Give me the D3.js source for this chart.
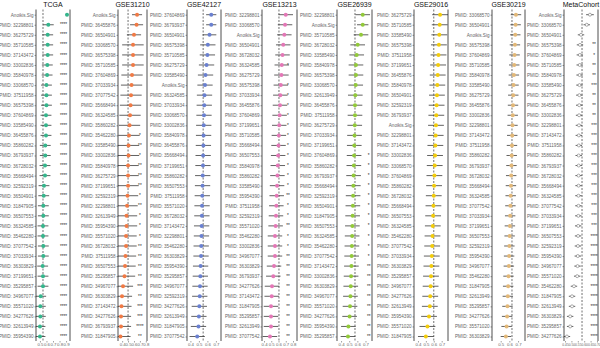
<!DOCTYPE html>
<html><head><meta charset="utf-8">
<script src="https://cdn.jsdelivr.net/npm/d3@7"></script>
<style>body{margin:0;background:#fff}svg{display:block}</style>
</head><body><svg id="c" width="600" height="348"></svg>
<script>
// ---------- DATA ----------
const panelTitles = ["TCGA","GSE31210","GSE42127","GSE13213","GSE26939","GSE29016","GSE30219","MetaCohort"];

const tcgaLabels = ["Anoikis.Sig","PMID: 32298801","PMID: 36275729","PMID: 35710585","PMID: 37143472","PMID: 33002836","PMID: 35840978","PMID: 33068570","PMID: 37511958","PMID: 36575398","PMID: 37604869","PMID: 33585490","PMID: 36455876","PMID: 35860282","PMID: 36793937","PMID: 36728032","PMID: 35668494","PMID: 32592319","PMID: 36504901","PMID: 31847905","PMID: 36507553","PMID: 36324585","PMID: 35462280","PMID: 37077542","PMID: 37033934","PMID: 36303829","PMID: 37199651","PMID: 35295857","PMID: 34967077","PMID: 35571020","PMID: 34277626","PMID: 32613949","PMID: 35954390"];
const tcgaC = [0.914,0.628,0.619,0.619,0.619,0.613,0.61,0.60,0.60,0.60,0.593,0.593,0.593,0.582,0.582,0.578,0.578,0.562,0.558,0.552,0.552,0.547,0.547,0.552,0.552,0.542,0.547,0.547,0.512,0.506,0.506,0.501,0.501];
const tcgaLo = [0.895,0.545,0.536,0.536,0.536,0.53,0.527,0.517,0.517,0.517,0.51,0.51,0.51,0.499,0.499,0.495,0.495,0.479,0.475,0.469,0.469,0.464,0.464,0.469,0.469,0.459,0.464,0.464,0.429,0.423,0.423,0.418,0.418];
const tcgaHi = [0.933,0.711,0.702,0.702,0.702,0.696,0.693,0.683,0.683,0.683,0.676,0.676,0.676,0.665,0.665,0.661,0.661,0.645,0.641,0.635,0.635,0.63,0.63,0.635,0.635,0.625,0.63,0.63,0.595,0.589,0.589,0.584,0.584];
const tcgaStars = ["","****","****","****","****","****","****","****","****","****","****","****","****","****","****","****","****","****","****","****","****","****","****","****","****","****","****","****","****","****","****","****","****"];
const tcgaTicks = [0.5,0.6,0.7,0.8,0.9];

const g31210Labels = ["Anoikis.Sig","PMID: 36455876","PMID: 36504901","PMID: 33068570","PMID: 36575398","PMID: 35710585","PMID: 37604869","PMID: 37033934","PMID: 37077542","PMID: 35668494","PMID: 36324585","PMID: 35860282","PMID: 35462280","PMID: 33585490","PMID: 33002836","PMID: 35840978","PMID: 36275729","PMID: 37199651","PMID: 32592319","PMID: 32298801","PMID: 32613949","PMID: 35954390","PMID: 35571020","PMID: 36728032","PMID: 37511958","PMID: 36507553","PMID: 35295857","PMID: 34967077","PMID: 36303829","PMID: 37143472","PMID: 34277626","PMID: 36793937","PMID: 31847905"];
const g31210C = [0.652,0.644,0.60,0.584,0.584,0.584,0.567,0.559,0.55,0.542,0.533,0.525,0.516,0.508,0.508,0.50,0.50,0.50,0.491,0.483,0.474,0.474,0.466,0.466,0.457,0.449,0.44,0.415,0.398,0.389,0.381,0.381,0.372];
const g31210Lo = [0.567,0.534,0.48,0.40,0.40,0.40,0.387,0.379,0.37,0.362,0.353,0.345,0.336,0.328,0.328,0.32,0.32,0.32,0.311,0.303,0.294,0.294,0.286,0.286,0.277,0.269,0.26,0.245,0.228,0.219,0.211,0.211,0.202];
const g31210Hi = [0.737,0.754,0.72,0.764,0.764,0.764,0.747,0.739,0.73,0.722,0.713,0.705,0.696,0.688,0.688,0.68,0.68,0.68,0.671,0.663,0.654,0.654,0.646,0.646,0.637,0.629,0.62,0.585,0.568,0.559,0.551,0.551,0.542];
const g31210Stars = ["","","","","","","","","","","","","*","**","*","**","**","**","*","**","*","*","*","**","**","**","**","***","**","***","***","****","**"];
const g31210Ticks = [0.4,0.5,0.6,0.7,0.8];

const g42127Labels = ["PMID: 37604869","PMID: 36793937","PMID: 36504901","PMID: 36575398","PMID: 35710585","PMID: 36275729","PMID: 33585490","Anoikis.Sig","PMID: 36324585","PMID: 37033934","PMID: 33068570","PMID: 33002836","PMID: 35840978","PMID: 36455876","PMID: 35668494","PMID: 37199651","PMID: 35860282","PMID: 36507553","PMID: 37511958","PMID: 35571020","PMID: 36728032","PMID: 37143472","PMID: 32298801","PMID: 35462280","PMID: 36303829","PMID: 35954390","PMID: 35295857","PMID: 34967077","PMID: 32592319","PMID: 34277626","PMID: 32613949","PMID: 31847905","PMID: 37077542"];
const g42127C = [0.645,0.645,0.625,0.605,0.60,0.59,0.578,0.572,0.566,0.563,0.56,0.557,0.555,0.553,0.55,0.548,0.545,0.543,0.54,0.537,0.535,0.532,0.53,0.527,0.525,0.52,0.517,0.513,0.51,0.505,0.50,0.495,0.48];
const g42127Lo = [0.585,0.585,0.545,0.515,0.51,0.50,0.488,0.482,0.476,0.473,0.47,0.467,0.465,0.463,0.46,0.458,0.455,0.453,0.45,0.447,0.445,0.442,0.44,0.437,0.435,0.43,0.427,0.423,0.42,0.415,0.41,0.405,0.39];
const g42127Hi = [0.705,0.705,0.705,0.695,0.69,0.68,0.668,0.662,0.656,0.653,0.65,0.647,0.645,0.643,0.64,0.638,0.635,0.633,0.63,0.627,0.625,0.622,0.62,0.617,0.615,0.61,0.607,0.603,0.60,0.595,0.59,0.585,0.57];
const g42127Stars = ["","","","","","","","","","","","","","","","","","","","","","","","","","","","","","","","",""];
const g42127Ticks = [0.4,0.5,0.6,0.7];

const g13213Labels = ["PMID: 32298801","PMID: 33068570","Anoikis.Sig","PMID: 36504901","PMID: 36728032","PMID: 36324585","PMID: 36275729","PMID: 36575398","PMID: 37033934","PMID: 36455876","PMID: 37604869","PMID: 37199651","PMID: 35710585","PMID: 35668494","PMID: 36507553","PMID: 35840978","PMID: 35860282","PMID: 33585490","PMID: 35954390","PMID: 37511958","PMID: 32592319","PMID: 35571020","PMID: 35462280","PMID: 33002836","PMID: 34967077","PMID: 36303829","PMID: 36793937","PMID: 34277626","PMID: 37143472","PMID: 31847905","PMID: 35295857","PMID: 32613949","PMID: 37077542"];
const g13213C = [0.70,0.69,0.68,0.665,0.655,0.645,0.64,0.632,0.625,0.62,0.615,0.61,0.605,0.60,0.595,0.59,0.585,0.58,0.575,0.57,0.565,0.56,0.551,0.551,0.551,0.538,0.528,0.51,0.506,0.496,0.496,0.496,0.482];
const g13213Lo = [0.60,0.59,0.58,0.565,0.555,0.545,0.54,0.532,0.525,0.52,0.515,0.51,0.505,0.50,0.495,0.49,0.485,0.48,0.475,0.47,0.465,0.46,0.451,0.451,0.451,0.438,0.428,0.41,0.406,0.396,0.396,0.396,0.382];
const g13213Hi = [0.80,0.79,0.78,0.765,0.755,0.745,0.74,0.732,0.725,0.72,0.715,0.71,0.705,0.70,0.695,0.69,0.685,0.68,0.675,0.67,0.665,0.66,0.651,0.651,0.651,0.638,0.628,0.61,0.606,0.596,0.596,0.596,0.582];
const g13213Stars = ["","","","","","*","","*","*","*","*","*","*","*","*","*","*","*","**","*","*","**","*","*","**","**","**","**","**","**","**","**","**"];
const g13213Ticks = [0.4,0.5,0.6,0.7,0.8];

const g26939Labels = ["PMID: 32298801","Anoikis.Sig","PMID: 35710585","PMID: 36728032","PMID: 33585490","PMID: 35840978","PMID: 36575398","PMID: 33068570","PMID: 32613949","PMID: 36455876","PMID: 37511958","PMID: 36275729","PMID: 37033934","PMID: 37199651","PMID: 37604869","PMID: 35860282","PMID: 36793937","PMID: 35668494","PMID: 32592319","PMID: 36504901","PMID: 31847905","PMID: 36507553","PMID: 36324585","PMID: 35462280","PMID: 37077542","PMID: 37143472","PMID: 33002836","PMID: 36303829","PMID: 34967077","PMID: 35571020","PMID: 34277626","PMID: 35954390","PMID: 35295857"];
const g26939C = [0.666,0.666,0.645,0.604,0.592,0.583,0.583,0.58,0.575,0.571,0.571,0.568,0.565,0.562,0.56,0.557,0.554,0.551,0.548,0.545,0.542,0.539,0.536,0.533,0.53,0.527,0.523,0.519,0.515,0.51,0.505,0.49,0.485];
const g26939Lo = [0.576,0.596,0.555,0.514,0.502,0.493,0.493,0.49,0.485,0.481,0.481,0.478,0.475,0.472,0.47,0.467,0.464,0.461,0.458,0.455,0.452,0.449,0.446,0.443,0.44,0.437,0.433,0.429,0.425,0.42,0.415,0.40,0.395];
const g26939Hi = [0.756,0.736,0.735,0.694,0.682,0.673,0.673,0.67,0.665,0.661,0.661,0.658,0.655,0.652,0.65,0.647,0.644,0.641,0.638,0.635,0.632,0.629,0.626,0.623,0.62,0.617,0.613,0.609,0.605,0.60,0.595,0.58,0.575];
const g26939Stars = ["","","","","","","","","","","","","","","*","*","*","*","*","*","*","*","*","*","*","**","**","**","**","**","**","**","**"];
const g26939Ticks = [0.4,0.5,0.6,0.7];

const g29016Labels = ["PMID: 36275729","PMID: 35710585","PMID: 33585490","PMID: 36575398","PMID: 37511958","PMID: 37199651","PMID: 36455876","PMID: 35840978","PMID: 36504901","PMID: 32592319","PMID: 36793937","Anoikis.Sig","PMID: 32298801","PMID: 37143472","PMID: 33002836","PMID: 33068570","PMID: 37604869","PMID: 35860282","PMID: 36728032","PMID: 35668494","PMID: 36507553","PMID: 36324585","PMID: 35462280","PMID: 37077542","PMID: 37033934","PMID: 36303829","PMID: 35295857","PMID: 34967077","PMID: 34277626","PMID: 32613949","PMID: 35954390","PMID: 35571020","PMID: 31847905"];
const g29016C = [0.68,0.675,0.67,0.665,0.66,0.655,0.65,0.645,0.64,0.636,0.632,0.628,0.624,0.62,0.616,0.612,0.608,0.604,0.60,0.596,0.592,0.588,0.584,0.58,0.575,0.57,0.565,0.56,0.555,0.55,0.54,0.52,0.50];
const g29016Lo = [0.58,0.575,0.57,0.565,0.56,0.555,0.55,0.545,0.54,0.536,0.532,0.528,0.524,0.52,0.516,0.512,0.508,0.504,0.50,0.496,0.492,0.488,0.484,0.48,0.475,0.47,0.465,0.46,0.455,0.45,0.44,0.42,0.40];
const g29016Hi = [0.78,0.775,0.77,0.765,0.76,0.755,0.75,0.745,0.74,0.736,0.732,0.728,0.724,0.72,0.716,0.712,0.708,0.704,0.70,0.696,0.692,0.688,0.684,0.68,0.675,0.67,0.665,0.66,0.655,0.65,0.64,0.62,0.60];
const g29016Stars = ["","","","","","","","","","","","","","","","","","","","","","","","","","","","","","","","",""];
const g29016Ticks = [0.4,0.5,0.6,0.7];

const g30219Labels = ["PMID: 33068570","PMID: 36504901","Anoikis.Sig","PMID: 36575398","PMID: 37604869","PMID: 35710585","PMID: 35840978","PMID: 33585490","PMID: 36275729","PMID: 36455876","PMID: 33002836","PMID: 32298801","PMID: 37143472","PMID: 37511958","PMID: 35860282","PMID: 36793937","PMID: 36728032","PMID: 35668494","PMID: 36324585","PMID: 37077542","PMID: 37033934","PMID: 37199651","PMID: 36507553","PMID: 32592319","PMID: 35954390","PMID: 34967077","PMID: 35462280","PMID: 31847905","PMID: 32613949","PMID: 35295857","PMID: 34277626","PMID: 35571020","PMID: 36303829"];
const g30219C = [0.676,0.672,0.668,0.664,0.66,0.656,0.652,0.648,0.645,0.642,0.639,0.636,0.633,0.63,0.627,0.624,0.621,0.618,0.615,0.612,0.609,0.606,0.603,0.60,0.597,0.594,0.59,0.586,0.582,0.578,0.574,0.568,0.56];
const g30219Lo = [0.616,0.612,0.608,0.604,0.60,0.596,0.592,0.588,0.585,0.582,0.579,0.576,0.573,0.57,0.567,0.564,0.561,0.558,0.555,0.552,0.549,0.546,0.543,0.54,0.537,0.534,0.53,0.526,0.522,0.518,0.514,0.508,0.50];
const g30219Hi = [0.736,0.732,0.728,0.724,0.72,0.716,0.712,0.708,0.705,0.702,0.699,0.696,0.693,0.69,0.687,0.684,0.681,0.678,0.675,0.672,0.669,0.666,0.663,0.66,0.657,0.654,0.65,0.646,0.642,0.638,0.634,0.628,0.62];
const g30219Stars = ["","","","","","","","","","","","","","","","","","","","","","","","","","","","","","","","",""];
const g30219Ticks = [0.5,0.6,0.7];

const metaLabels = ["Anoikis.Sig","PMID: 33068570","PMID: 36504901","PMID: 36575398","PMID: 37604869","PMID: 35710585","PMID: 35840978","PMID: 33585490","PMID: 36275729","PMID: 36455876","PMID: 33002836","PMID: 32298801","PMID: 37143472","PMID: 37511958","PMID: 35860282","PMID: 36793937","PMID: 36728032","PMID: 35668494","PMID: 36324585","PMID: 37077542","PMID: 37033934","PMID: 37199651","PMID: 36507553","PMID: 32592319","PMID: 35954390","PMID: 34967077","PMID: 35571020","PMID: 35462280","PMID: 31847905","PMID: 32613949","PMID: 36303829","PMID: 35295857","PMID: 34277626"];
const metaC = [0.645,0.62,0.575,0.567,0.566,0.565,0.564,0.563,0.562,0.561,0.56,0.559,0.558,0.558,0.557,0.557,0.556,0.556,0.555,0.555,0.554,0.553,0.552,0.551,0.55,0.548,0.545,0.52,0.505,0.505,0.49,0.49,0.465];
const metaLo = [0.615,0.595,0.55,0.542,0.541,0.54,0.539,0.538,0.537,0.536,0.535,0.534,0.533,0.533,0.532,0.532,0.531,0.531,0.53,0.53,0.529,0.528,0.527,0.526,0.525,0.523,0.52,0.495,0.48,0.48,0.465,0.465,0.44];
const metaHi = [0.675,0.645,0.60,0.592,0.591,0.59,0.589,0.588,0.587,0.586,0.585,0.584,0.583,0.583,0.582,0.582,0.581,0.581,0.58,0.58,0.579,0.578,0.577,0.576,0.575,0.573,0.57,0.545,0.53,0.53,0.515,0.515,0.49];
const metaStars = ["","","","**","*","**","**","***","**","**","**","***","***","***","***","***","***","***","***","***","***","***","****","****","****","****","****","****","****","****","****","****","****"];
const metaTicks = [0.45,0.5,0.55,0.6,0.65,0.7];

const refLines = [0.547,0.50,0.55,0.606,0.571,0.60,0.63,0.583];
const colors = ["#35B58C","#F07A45","#6A80D0","#E377B6","#92C93A","#F2CC0C","#E2B878","#9A9A9A"];

// ---------- LAYOUT ----------
const boxes = [[36,70],[118,147],[187,221],[262,297],[337,372],[414,448],[492,525],[564,598]];
const domains = [[0.44,0.96],[0.33,0.82],[0.36,0.76],[0.372,0.855],[0.35,0.78],[0.35,0.78],[0.40,0.78],[0.442,0.708]];
const starPos = [0.86,0.70,0.7,0.73,0.74,0.72,0.74,0.677];

const panels = [
 [tcgaLabels,tcgaC,tcgaLo,tcgaHi,tcgaStars,tcgaTicks],
 [g31210Labels,g31210C,g31210Lo,g31210Hi,g31210Stars,g31210Ticks],
 [g42127Labels,g42127C,g42127Lo,g42127Hi,g42127Stars,g42127Ticks],
 [g13213Labels,g13213C,g13213Lo,g13213Hi,g13213Stars,g13213Ticks],
 [g26939Labels,g26939C,g26939Lo,g26939Hi,g26939Stars,g26939Ticks],
 [g29016Labels,g29016C,g29016Lo,g29016Hi,g29016Stars,g29016Ticks],
 [g30219Labels,g30219C,g30219Lo,g30219Hi,g30219Stars,g30219Ticks],
 [metaLabels,metaC,metaLo,metaHi,metaStars,metaTicks]
];

const svg = d3.select("#c");
const plotTop = 9.5, plotBottom = 341;
const font = "Liberation Sans, Arial, sans-serif";

panels.forEach((p,i)=>{
  const [labels,cs,lo,hi,stars,ticks] = p;
  const [bx0,bx1] = boxes[i];
  const x = d3.scaleLinear().domain(domains[i]).range([bx0,bx1]);
  const y = d3.scalePoint().domain(labels).range([14.7,336.5]);
  const g = svg.append("g");
  const cid = "clip"+i;
  g.append("clipPath").attr("id",cid).append("rect").attr("x",bx0).attr("y",plotTop).attr("width",bx1-bx0).attr("height",plotBottom-plotTop);

  g.append("text").attr("x",(bx0+bx1)/2).attr("y",7).attr("text-anchor","middle")
   .attr("font-family",font).attr("font-size",7).attr("fill","#111").text(panelTitles[i]);

  const ya = g.append("g").attr("transform",`translate(${bx0},0)`).call(d3.axisLeft(y).tickSize(1.5).tickPadding(1));
  ya.select(".domain").remove();
  ya.selectAll("line").attr("stroke","#444").attr("stroke-width",0.5);
  ya.selectAll("text").attr("font-family",font).attr("font-size",4.6).attr("fill","#666");

  const fmt = d3.format(i===7?".2f":".1f");
  const xa = g.append("g").attr("transform",`translate(0,${plotBottom})`)
     .call(d3.axisBottom(x).tickValues(ticks).tickSize(1.5).tickPadding(0.8).tickFormat(fmt));
  xa.select(".domain").remove();
  xa.selectAll("line").attr("stroke","#444").attr("stroke-width",0.5);
  xa.selectAll("text").attr("font-family",font).attr("font-size",i===7?3.3:4.3).attr("fill","#666");

  g.append("line").attr("x1",x(refLines[i])).attr("x2",x(refLines[i])).attr("y1",plotTop).attr("y2",plotBottom)
   .attr("stroke","#333").attr("stroke-width",0.7).attr("stroke-dasharray","2,1.5");

  const pg = g.append("g").attr("clip-path",`url(#${cid})`);
  pg.selectAll("line.err").data(labels).join("line").attr("class","err")
    .attr("x1",(d,j)=>x(lo[j])).attr("x2",(d,j)=>x(hi[j]))
    .attr("y1",d=>y(d)).attr("y2",d=>y(d)).attr("stroke","#3a3a3a").attr("stroke-width",0.8);
  pg.selectAll("circle").data(labels).join("circle")
    .attr("cx",(d,j)=>x(cs[j])).attr("cy",d=>y(d)).attr("r",i===7?1.5:2)
    .attr("fill",i===7?"#fff":colors[i]).attr("stroke",i===7?"#777":"none").attr("stroke-width",0.6);

  g.selectAll("text.star").data(labels).join("text").attr("class","star")
    .attr("x",x(starPos[i])).attr("y",d=>y(d)+1.6).attr("text-anchor","middle")
    .attr("font-family",font).attr("font-size",4.6).attr("fill","#222")
    .text((d,j)=>stars[j]);

  g.append("line").attr("x1",bx0).attr("x2",bx0).attr("y1",plotTop).attr("y2",plotBottom).attr("stroke","#222").attr("stroke-width",0.8);
  g.append("line").attr("x1",bx1).attr("x2",bx1).attr("y1",plotTop).attr("y2",plotBottom).attr("stroke","#222").attr("stroke-width",0.8);
});
</script></body></html>
